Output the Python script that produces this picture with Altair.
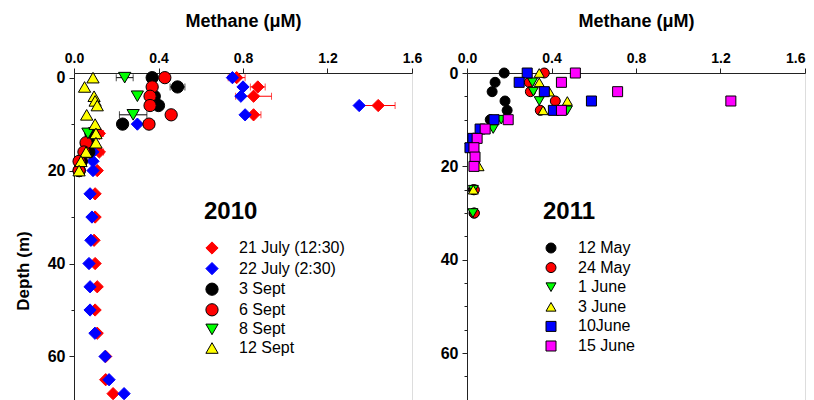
import altair as alt
import pandas as pd

FONT = "Liberation Sans"

# ---------------- 2010 panel ----------------
series_2010 = ["21 July (12:30)", "22 July (2:30)", "3 Sept", "6 Sept", "8 Sept", "12 Sept"]
fill_2010 = ["#ff0000", "#0000ff", "#000000", "#ff0000", "#00ff00", "#ffff00"]
stroke_2010 = ["#ff0000", "#0000ff", "#000000", "#000000", "#000000", "#000000"]
shape_2010 = ["diamond", "diamond", "circle", "circle", "triangle-down", "triangle-up"]
size_2010 = [150, 150, 100, 100, 90, 90]

jul21_depth = [0, 2, 4, 6, 8, 12, 16, 20, 25, 30, 35, 40, 45, 50, 55, 60, 65, 68]
jul21_ch4 = [0.77, 0.87, 0.85, 1.44, 0.85, 0.12, 0.12, 0.11, 0.10, 0.10, 0.095, 0.10, 0.11, 0.10, 0.11, 0.15, 0.15, 0.185]

jul22_depth = [0, 2, 4, 6, 8, 10, 16, 18, 20, 25, 30, 35, 40, 45, 50, 55, 60, 65, 68]
jul22_ch4 = [0.75, 0.80, 0.79, 1.35, 0.81, 0.30, 0.09, 0.09, 0.09, 0.076, 0.085, 0.08, 0.071, 0.076, 0.076, 0.099, 0.147, 0.166, 0.237]

sep3_depth = [0, 2, 4, 6, 10, 12, 14, 16, 18, 20]
sep3_ch4 = [0.37, 0.49, 0.38, 0.40, 0.23, 0.08, 0.07, 0.07, 0.035, 0.025]

sep6_depth = [0, 2, 4, 6, 8, 10, 14, 16, 18, 20]
sep6_ch4 = [0.43, 0.37, 0.36, 0.36, 0.46, 0.355, 0.057, 0.047, 0.024, 0.024]

sep8_depth = [0, 4, 8, 12]
sep8_ch4 = [0.24, 0.30, 0.28, 0.066]

sep12_depth = [0, 2, 4, 5, 6, 8, 10, 12, 14, 16, 18, 20]
sep12_ch4 = [0.09, 0.05, 0.095, 0.10, 0.11, 0.06, 0.10, 0.104, 0.104, 0.057, 0.033, 0.024]

# error bars (2010): series, depth, mean, +/- error
err_series = ["21 July (12:30)"] * 7 + ["3 Sept", "6 Sept", "8 Sept", "8 Sept"]
err_depth = [0, 2, 4, 6, 8, 12, 16, 2, 10, 0, 8]
err_mean = [0.77, 0.87, 0.85, 1.44, 0.85, 0.12, 0.12, 0.49, 0.355, 0.24, 0.28]
err_size = [0.04, 0.035, 0.085, 0.08, 0.035, 0.02, 0.02, 0.035, 0.025, 0.04, 0.065]
err_color = ["#ff0000"] * 7 + ["#000000"] * 4

# ---------------- 2011 panel ----------------
series_2011 = ["12 May", "24 May", "1 June", "3 June", "10June", "15 June"]
fill_2011 = ["#000000", "#ff0000", "#00ff00", "#ffff00", "#0000ff", "#ff00ff"]
stroke_2011 = ["#000000"] * 6
shape_2011 = ["circle", "circle", "triangle-down", "triangle-up", "square", "square"]
size_2011 = [100, 100, 90, 90, 80, 80]

may12_depth = [0, 2, 4, 6, 8, 10, 14, 16, 25, 30]
may12_ch4 = [0.176, 0.133, 0.119, 0.18, 0.19, 0.11, 0.033, 0.03, 0.03, 0.033]

may24_depth = [0, 2, 4, 6, 8, 14, 25, 30]
may24_ch4 = [0.366, 0.295, 0.30, 0.418, 0.347, 0.03, 0.035, 0.035]

jun1_depth = [2, 4, 6, 8, 10, 12, 25, 30]
jun1_ch4 = [0.31, 0.314, 0.342, 0.475, 0.162, 0.124, 0.03, 0.028]

jun3_depth = [0, 2, 4, 6, 8, 20, 25]
jun3_ch4 = [0.342, 0.342, 0.39, 0.475, 0.36, 0.057, 0.03]

jun10_depth = [0, 2, 4, 6, 8, 10, 12, 14, 16]
jun10_ch4 = [0.285, 0.247, 0.366, 0.589, 0.409, 0.128, 0.062, 0.028, 0.014]

jun15_depth = [0, 2, 4, 6, 8, 10, 12, 14, 16, 18, 20]
jun15_ch4 = [0.513, 0.447, 0.713, 1.249, 0.447, 0.195, 0.086, 0.048, 0.033, 0.038, 0.033]

x_ticks = [0.0, 0.4, 0.8, 1.2, 1.6]
y_ticks = list(range(0, 75, 5))


def long_df(names, depths, values):
    rows = []
    for n, ds, vs in zip(names, depths, values):
        for d, v in zip(ds, vs):
            rows.append({"series": n, "depth": d, "ch4": v})
    return pd.DataFrame(rows)


df2010 = long_df(series_2010,
                 [jul21_depth, jul22_depth, sep3_depth, sep6_depth, sep8_depth, sep12_depth],
                 [jul21_ch4, jul22_ch4, sep3_ch4, sep6_ch4, sep8_ch4, sep12_ch4])
df2011 = long_df(series_2011,
                 [may12_depth, may24_depth, jun1_depth, jun3_depth, jun10_depth, jun15_depth],
                 [may12_ch4, may24_ch4, jun1_ch4, jun3_ch4, jun10_ch4, jun15_ch4])

df_err = pd.DataFrame({
    "series": err_series,
    "depth": err_depth,
    "lo": [m - e for m, e in zip(err_mean, err_size)],
    "hi": [m + e for m, e in zip(err_mean, err_size)],
    "ecolor": err_color,
})

W, H = 338, 395


def x_axis(flush_last=False):
    kw = dict(orient="top", values=x_ticks, format=".1f", title="Methane (\u03bcM)",
              labelFont=FONT, labelFontSize=14, labelFontWeight="bold", labelColor="black",
              titleFont=FONT, titleFontSize=18, titleFontWeight="bold", titleColor="black",
              titlePadding=21, labelPadding=3, tickSize=5, grid=False,
              domainColor="#222222", tickColor="#222222", labelFlush=False)
    if flush_last:
        kw["labelAlign"] = {"condition": {"test": "datum.value >= 1.6", "value": "right"},
                            "value": "center"}
    return alt.Axis(**kw)


def y_axis(title):
    kw = dict(values=y_ticks, labelExpr="datum.value % 20 == 0 ? datum.label : ''",
              labelFont=FONT, labelFontSize=16, labelFontWeight="bold", labelColor="black",
              tickSize={"condition": {"test": "datum.value % 20 === 0", "value": 5}, "value": 3},
              labelPadding=4, grid=False, domainColor="#222222", tickColor="#222222")
    if title:
        kw.update(title=title, titleFont=FONT, titleFontSize=17, titleFontWeight="bold",
                  titleColor="black", titlePadding=15)
    else:
        kw.update(title=None)
    return alt.Axis(**kw)


def legend(title, lx, ly, row_pad):
    return alt.Legend(title=title, orient="none", legendX=lx, legendY=ly, padding=0,
                      titleFont=FONT, titleFontSize=24, titleFontWeight="bold", titleColor="black",
                      titlePadding=16, labelFont=FONT, labelFontSize=16, labelColor="black",
                      labelOffset=19, rowPadding=row_pad, symbolStrokeWidth=1)


def panel(df, names, fills, strokes, shapes, sizes, ydom, ytitle, lgd, err=None, flush_last=False):
    xs = alt.Scale(domain=[0, 1.6], nice=False, zero=False)
    ys = alt.Scale(domain=ydom, reverse=True, nice=False, zero=False)
    pts = alt.Chart(df).mark_point(opacity=1, fillOpacity=1, strokeWidth=1).encode(
        x=alt.X("ch4:Q", scale=xs, axis=x_axis(flush_last)),
        y=alt.Y("depth:Q", scale=ys, axis=y_axis(ytitle)),
        fill=alt.Fill("series:N", scale=alt.Scale(domain=names, range=fills), legend=lgd),
        stroke=alt.Stroke("series:N", scale=alt.Scale(domain=names, range=strokes), legend=lgd),
        shape=alt.Shape("series:N", scale=alt.Scale(domain=names, range=shapes), legend=lgd),
        size=alt.Size("series:N", scale=alt.Scale(domain=names, range=sizes), legend=lgd),
    )
    layers = []
    if err is not None:
        base = alt.Chart(err)
        rule = base.mark_rule(strokeWidth=1).encode(
            x=alt.X("lo:Q", scale=xs), x2="hi:Q", y=alt.Y("depth:Q", scale=ys),
            color=alt.Color("ecolor:N", scale=None))
        cap_lo = base.mark_tick(orient="vertical", size=7, thickness=1).encode(
            x=alt.X("lo:Q", scale=xs), y=alt.Y("depth:Q", scale=ys),
            color=alt.Color("ecolor:N", scale=None))
        cap_hi = base.mark_tick(orient="vertical", size=7, thickness=1).encode(
            x=alt.X("hi:Q", scale=xs), y=alt.Y("depth:Q", scale=ys),
            color=alt.Color("ecolor:N", scale=None))
        layers = [rule, cap_lo, cap_hi]
    return alt.layer(*layers, pts).properties(width=W, height=H)


left = panel(df2010, series_2010, fill_2010, stroke_2010, shape_2010, size_2010,
             [-1, 84], "Depth (m)", legend("2010", 130, 127, 2.6), df_err)
right = panel(df2011, series_2011, fill_2011, stroke_2011, shape_2011, size_2011,
              [0, 84.6], None, legend("2011", 76, 127, 3.6), flush_last=True)

chart = alt.hconcat(left, right, spacing=16).resolve_scale(
    x="independent", y="independent", fill="independent", stroke="independent",
    shape="independent", size="independent"
).resolve_legend(
    fill="independent", stroke="independent", shape="independent", size="independent"
).properties(
    padding={"left": 5, "top": 3, "right": 0, "bottom": 5}
).configure_view(stroke=None).configure(background="white")

chart.save("out.html", embed_options={"renderer": "svg", "actions": False})
